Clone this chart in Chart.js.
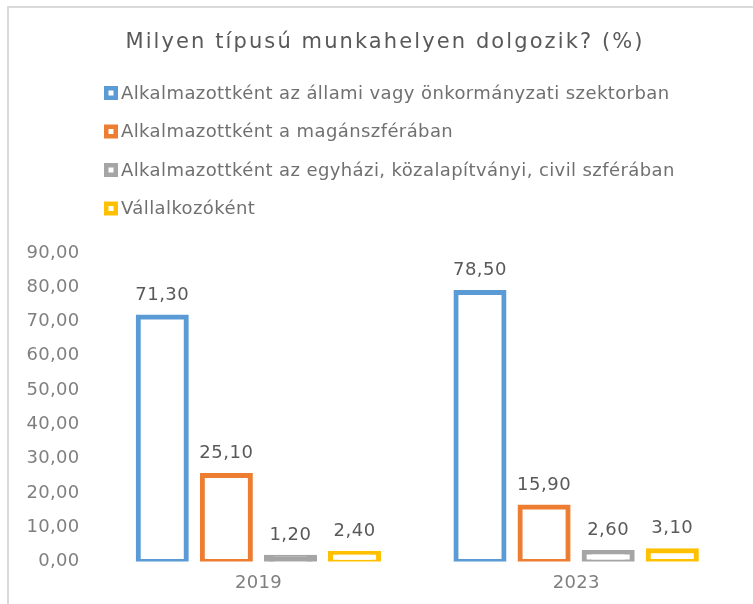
<!DOCTYPE html>
<html>
<head>
<meta charset="utf-8">
<script src="https://cdn.jsdelivr.net/npm/chart.js@4"></script>
<style>
body{margin:0;background:#fff;}
#wrap{position:relative;width:753px;height:604px;}
#keret{position:absolute;left:7px;top:6px;right:-5px;bottom:-5px;border-left:2px solid #d9d9d9;border-top:2px solid #d9d9d9;}
canvas{position:absolute;left:0;top:0;}
</style>
</head>
<body>
<div id="wrap">
<div id="keret"></div>
<canvas id="chart" width="753" height="604"></canvas>
</div>
<script>
const cim="Milyen típusú munkahelyen dolgozik? (%)"
const evek=["2019","2023"]
const allami=[71.3,78.5]
const magan=[25.1,15.9]
const egyhazi=[1.2,2.6]
const vallalkozo=[2.4,3.1]
const sorNevek=[
"Alkalmazottként az állami vagy önkormányzati szektorban",
"Alkalmazottként a magánszférában",
"Alkalmazottként az egyházi, közalapítványi, civil szférában",
"Vállalkozóként"
]
const szinek=["#5b9bd5","#ed7d31","#a5a5a5","#ffc000"]

const fmt=v=>v.toFixed(2).replace(".",",")
const betu="'DejaVu Sans', Verdana, sans-serif"
const keretVastag=5

// betukoz az egesz rajzra (Verdana szeru szelesseg)
const betukoz={
id:"betukoz",
beforeDraw(chart){chart.ctx.letterSpacing="0.3px"}
}

// ertekek a oszlopok folott
const cimkek={
id:"cimkek",
afterDatasetsDraw(chart){
const ctx=chart.ctx
ctx.save()
ctx.font="18px "+betu
ctx.letterSpacing="0.5px"
ctx.fillStyle="#595959"
ctx.textAlign="center"
ctx.textBaseline="middle"
chart.data.datasets.forEach((ds,i)=>{
chart.getDatasetMeta(i).data.forEach((el,j)=>{
ctx.fillText(fmt(ds.data[j]),el.x,el.y-22)
})
})
ctx.restore()
}
}

// cim + jelmagyarazat egymas alatt, balra igazitva
const fejlec={
id:"fejlec",
afterDraw(chart){
const ctx=chart.ctx
ctx.save()
ctx.font="21px "+betu
ctx.letterSpacing="2.1px"
ctx.fillStyle="#595959"
ctx.textBaseline="middle"
ctx.textAlign="left"
const w=ctx.measureText(cim).width
ctx.fillText(cim,385-w/2,43)

ctx.font="18px "+betu
ctx.letterSpacing="0.4px"
chart.data.datasets.forEach((ds,i)=>{
const y=93+i*38.5
ctx.fillStyle=ds.borderColor
ctx.fillRect(104,y-7,14,14)
ctx.fillStyle="#fff"
ctx.fillRect(108.5,y-2.5,5,5)
ctx.fillStyle="#707070"
ctx.fillText(ds.label,121,y+1)
})
ctx.restore()
}
}

const adatok=[allami,magan,egyhazi,vallalkozo]

// ha az oszlop alacsonyabb a keretnel, nincs belseje (mint Excelben)
const belso=i=>c=>{
const y=c.chart.scales.y
if(!y) return "#fff"
const h=y.getPixelForValue(0)-y.getPixelForValue(c.raw)
return h<=keretVastag ? szinek[i] : "#fff"
}

new Chart(document.getElementById("chart"),{
type:"bar",
data:{
labels:evek,
datasets:adatok.map((d,i)=>({
label:sorNevek[i],
data:d,
backgroundColor:belso(i),
borderColor:szinek[i],
borderWidth:keretVastag,
borderSkipped:false,
inflateAmount:keretVastag/2,
categoryPercentage:0.807,
barPercentage:0.75
}))
},
options:{
responsive:false,
animation:false,
layout:{padding:{left:8,right:18,top:253,bottom:-1}},
plugins:{
legend:{display:false},
tooltip:{enabled:false},
title:{display:false}
},
scales:{
x:{
grid:{display:false,drawTicks:false},
border:{display:false},
ticks:{color:"#7f7f7f",font:{family:betu,size:18},padding:11}
},
y:{
min:0,max:90,
grid:{display:false,drawTicks:false},
border:{display:false},
ticks:{stepSize:10,color:"#7f7f7f",font:{family:betu,size:18},padding:20,callback:v=>fmt(v)}
}
}
},
plugins:[betukoz,cimkek,fejlec]
})
</script>
</body>
</html>
